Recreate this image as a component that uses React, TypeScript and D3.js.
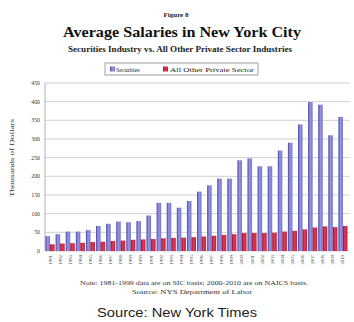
import React from "react";
import * as d3 from "d3";

// Average salaries, thousands of dollars
const years = [
  "1981", "1982", "1983", "1984", "1985", "1986", "1987", "1988", "1989", "1990",
  "1991", "1992", "1993", "1994", "1995", "1996", "1997", "1998", "1999", "2000",
  "2001", "2002", "2003", "2004", "2005", "2006", "2007", "2008", "2009", "2010",
];
const securities = [
  40, 45, 52, 52, 56, 67, 73, 79, 77, 80,
  95, 129, 129, 116, 134, 159, 176, 194, 194, 243,
  248, 227, 227, 269, 290, 339, 399, 392, 310, 359,
];
const allOther = [
  18, 20, 21, 22, 24, 25, 27, 28, 30, 31,
  32, 34, 35, 36, 37, 39, 41, 43, 45, 48,
  48, 48, 49, 52, 54, 58, 63, 66, 64, 67,
];
const yTicks = [0, 50, 100, 150, 200, 250, 300, 350, 400, 450];
const seriesNames = ["Securities", "All Other Private Sector"];

const W = 354;
const H = 322;
const plot = { left: 45, right: 348, top: 83, bottom: 251 };

export default function App() {
  const x = d3.scaleBand<string>().domain(years).range([plot.left, plot.right]).paddingInner(0.1).paddingOuter(0.05);
  const inner = d3.scaleBand<string>().domain(seriesNames).range([0, x.bandwidth()]).padding(0);
  const y = d3.scaleLinear().domain([0, 450]).range([plot.bottom, plot.top]);
  const serif = "'Liberation Serif', 'Times New Roman', serif";

  return (
    <svg width={W} height={H} style={{ position: "absolute", left: 0, top: 0, background: "#fff" }}>
      <defs>
        <linearGradient id="gBlue" x1="0" x2="1" y1="0" y2="0">
          <stop offset="0" stopColor="#4646a6" />
          <stop offset="0.45" stopColor="#9696e2" />
          <stop offset="1" stopColor="#7474cc" />
        </linearGradient>
        <linearGradient id="gRed" x1="0" x2="1" y1="0" y2="0">
          <stop offset="0" stopColor="#9e0f2c" />
          <stop offset="0.45" stopColor="#e23a55" />
          <stop offset="1" stopColor="#c21d3b" />
        </linearGradient>
      </defs>

      {/* Titles */}
      <text x={176} y={17} textAnchor="middle" fontFamily={serif} fontWeight="bold" fontSize={7} fill="#222">Figure 8</text>
      <text x={182} y={37} textAnchor="middle" fontFamily={serif} fontWeight="bold" fontSize={15} textLength={238} lengthAdjust="spacingAndGlyphs" fill="#111">Average Salaries in New York City</text>
      <text x={180} y={51.5} textAnchor="middle" fontFamily={serif} fontWeight="bold" fontSize={8} textLength={224} lengthAdjust="spacingAndGlyphs" fill="#222">Securities Industry vs. All Other Private Sector Industries</text>

      {/* Legend */}
      <rect x={105} y={63} width={153} height={12} fill="#fff" stroke="#888" strokeWidth={0.8} />
      <rect x={110} y={66.5} width={5} height={5} fill="url(#gBlue)" />
      <text x={116} y={71.5} fontFamily={serif} fontSize={6} fill="#222">{seriesNames[0]}</text>
      <rect x={163} y={66.5} width={5} height={5} fill="url(#gRed)" />
      <text x={170} y={71.5} fontFamily={serif} fontSize={6} textLength={84} lengthAdjust="spacingAndGlyphs" fill="#222">{seriesNames[1]}</text>

      {/* Grid and y axis */}
      {yTicks.map((t) => (
        <g key={t}>
          <line x1={plot.left} x2={plot.right + 2} y1={y(t)} y2={y(t)} stroke="#c4c4c4" strokeWidth={0.8} />
          <text x={40} y={y(t) + 2} textAnchor="end" fontFamily={serif} fontSize={5.8} fill="#333">{t}</text>
        </g>
      ))}
      <line x1={plot.left} x2={plot.left} y1={plot.top} y2={plot.bottom} stroke="#999" strokeWidth={0.8} />
      <text transform={`translate(14,158) rotate(-90)`} textAnchor="middle" fontFamily={serif} fontSize={6.5} textLength={78} lengthAdjust="spacingAndGlyphs" fill="#333">Thousands of Dollars</text>

      {/* Bars */}
      {years.map((yr, i) => {
        const gx = x(yr)!;
        return (
          <g key={yr}>
            <rect x={gx + inner(seriesNames[0])!} y={y(securities[i])} width={inner.bandwidth()} height={plot.bottom - y(securities[i])} fill="url(#gBlue)" />
            <rect x={gx + inner(seriesNames[1])!} y={y(allOther[i])} width={inner.bandwidth()} height={plot.bottom - y(allOther[i])} fill="url(#gRed)" />
            <text transform={`translate(${gx + x.bandwidth() / 2 + 1.5},${plot.bottom + 4}) rotate(-90)`} textAnchor="end" fontFamily={serif} fontSize={4.8} fill="#444">{yr}</text>
          </g>
        );
      })}

      {/* Notes */}
      <text x={194} y={285} textAnchor="middle" fontFamily={serif} fontSize={5.6} textLength={228} lengthAdjust="spacingAndGlyphs" fill="#333">Note: 1981-1999 data are on SIC basis; 2000-2010 are on NAICS basis.</text>
      <text x={192} y={294} textAnchor="middle" fontFamily={serif} fontSize={5.6} textLength={120} lengthAdjust="spacingAndGlyphs" fill="#333">Source: NYS Department of Labor</text>

      <text x={177} y={317} textAnchor="middle" fontFamily="'Liberation Sans', Arial, sans-serif" fontSize={12} textLength={160} lengthAdjust="spacingAndGlyphs" fill="#222">Source: New York Times</text>
    </svg>
  );
}
